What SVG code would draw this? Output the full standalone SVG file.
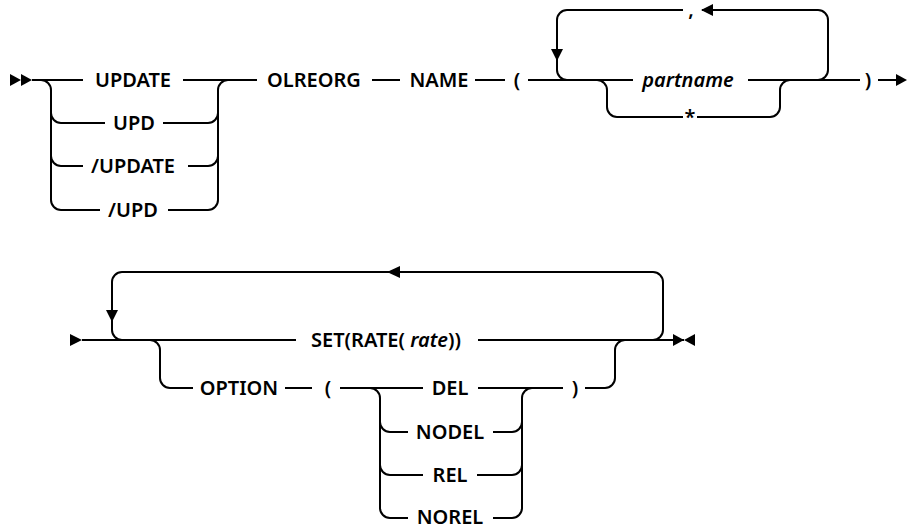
<svg xmlns="http://www.w3.org/2000/svg" width="907" height="527" viewBox="0 0 907 527">
<style>
.c{fill:none;stroke:#000;stroke-width:2}
.a{fill:#000;stroke:none}
text{font-family:"Noto Sans","Liberation Sans",Arial,sans-serif;font-size:20px;font-weight:600;fill:#000;text-anchor:middle}
.i{font-style:italic}
</style>
<rect width="907" height="527" fill="#fff"/>
<g id="connectors">
<!-- row 1 -->
<polygon class="a" points="10,74 21,80 10,86"/>
<polygon class="a" points="21,74 32,80 21,86"/>
<path class="c" d="M32,80 H83"/>
<path class="c" d="M183,80 H257"/>
<path class="c" d="M41,80 A10,10 0 0 1 51,90 V200 A10,10 0 0 0 61,210 H100"/>
<path class="c" d="M51,113 A10,10 0 0 0 61,123 H105"/>
<path class="c" d="M51,156 A10,10 0 0 0 61,166 H83"/>
<path class="c" d="M163,123 H208 A10,10 0 0 0 218,113"/>
<path class="c" d="M188,166 H208 A10,10 0 0 0 218,156"/>
<path class="c" d="M168,210 H208 A10,10 0 0 0 218,200 V90 A10,10 0 0 1 228,80"/>
<path class="c" d="M372,80 H400"/>
<path class="c" d="M475,80 H505"/>
<path class="c" d="M528,80 H633"/>
<path class="c" d="M748,80 H860"/>
<path class="c" d="M567,80 A10,10 0 0 1 557,70 V20 A10,10 0 0 1 567,10 H683"/>
<polygon class="a" points="551,49 563,49 557,61"/>
<path class="c" d="M702,10 H818 A10,10 0 0 1 828,20 V70 A10,10 0 0 1 818,80"/>
<polygon class="a" points="701,10 713,4 713,16"/>
<path class="c" d="M597,80 A10,10 0 0 1 607,90 V107 A10,10 0 0 0 617,117 H683"/>
<path class="c" d="M697,117 H770 A10,10 0 0 0 780,107 V90 A10,10 0 0 1 790,80"/>
<path class="c" d="M878,80 H898"/>
<polygon class="a" points="896,74 907,80 896,86"/>
<!-- row 2 -->
<polygon class="a" points="70,334 82,340 70,346"/>
<path class="c" d="M82,340 H296"/>
<path class="c" d="M478,340 H684"/>
<path class="c" d="M122,340 A10,10 0 0 1 112,330 V282 A10,10 0 0 1 122,272 H653 A10,10 0 0 1 663,282 V330 A10,10 0 0 1 653,340"/>
<polygon class="a" points="387,272 400,266 400,278"/>
<polygon class="a" points="106,310 118,310 112,322"/>
<polygon class="a" points="673,334 684,340 673,346"/>
<polygon class="a" points="695,334 684,340 695,346"/>
<path class="c" d="M150,340 A10,10 0 0 1 160,350 V378 A10,10 0 0 0 170,388 H193"/>
<path class="c" d="M285,388 H312"/>
<path class="c" d="M340,388 H423"/>
<path class="c" d="M478,388 H563"/>
<path class="c" d="M585,388 H605 A10,10 0 0 0 615,378 V350 A10,10 0 0 1 625,340"/>
<path class="c" d="M370,388 A10,10 0 0 1 380,398 V508 A10,10 0 0 0 390,518 H408"/>
<path class="c" d="M380,422 A10,10 0 0 0 390,432 H408"/>
<path class="c" d="M380,465 A10,10 0 0 0 390,475 H423"/>
<path class="c" d="M493,518 H512 A10,10 0 0 0 522,508 V398 A10,10 0 0 1 532,388"/>
<path class="c" d="M493,432 H512 A10,10 0 0 0 522,422"/>
<path class="c" d="M477,475 H512 A10,10 0 0 0 522,465"/>
</g>
<g id="n-update"><text x="133" y="87">UPDATE</text></g>
<g id="n-upd"><text x="134" y="130">UPD</text></g>
<g id="n-slash-update"><text x="133" y="173">/UPDATE</text></g>
<g id="n-slash-upd"><text x="133" y="217">/UPD</text></g>
<g id="n-olreorg"><text x="314" y="87">OLREORG</text></g>
<g id="n-name"><text x="439" y="87">NAME</text></g>
<g id="n-lparen1"><text x="517" y="87">(</text></g>
<g id="n-comma"><text x="691" y="16">,</text></g>
<g id="n-partname"><text class="i" x="688" y="87">partname</text></g>
<g id="n-star"><text x="690" y="124">*</text></g>
<g id="n-rparen1"><text x="868" y="87">)</text></g>
<g id="n-set"><text x="386" y="347">SET(RATE( <tspan class="i">rate</tspan>))</text></g>
<g id="n-option"><text x="239" y="395">OPTION</text></g>
<g id="n-lparen2"><text x="328" y="395">(</text></g>
<g id="n-rparen2"><text x="575" y="395">)</text></g>
<g id="n-del"><text x="450" y="395">DEL</text></g>
<g id="n-nodel"><text x="450" y="439">NODEL</text></g>
<g id="n-rel"><text x="450" y="482">REL</text></g>
<g id="n-norel"><text x="450" y="524">NOREL</text></g>
</svg>
